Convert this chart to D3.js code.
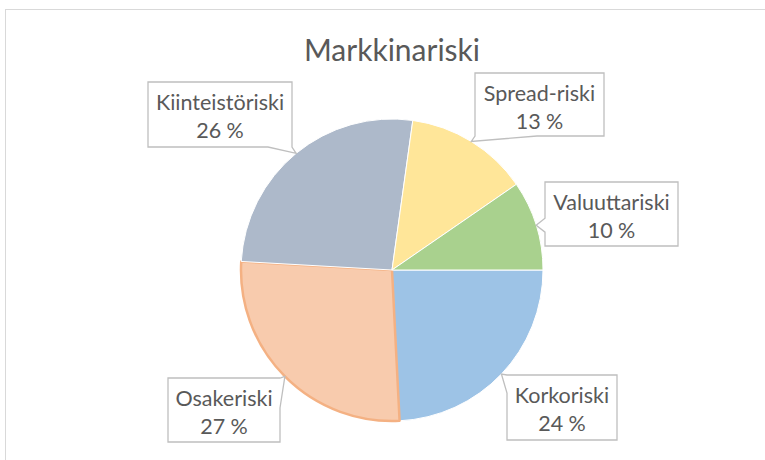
<!DOCTYPE html>
<html>
<head>
<meta charset="utf-8">
<script src="https://cdn.jsdelivr.net/npm/d3@7"></script>
<style>
  body { margin: 0; background: #fff; }
  text { font-family: Lato, "Noto Sans", sans-serif; fill: #595959; }
</style>
</head>
<body>
<div class="chart"></div>
<script>
// data (clockwise from 3 o'clock)
const categories = ["Korkoriski", "Osakeriski", "Kiinteistöriski", "Spread-riski", "Valuuttariski"];
const values = [24.2, 26.7, 26.3, 13.2, 9.6];
const pctLabels = ["24 %", "27 %", "26 %", "13 %", "10 %"];
const colors = ["#9dc3e6", "#f8cbad", "#adb9ca", "#ffe699", "#a9d18e"];

// callout boxes relative to pie centre: [dx, dy, w, h]
const boxes = [
  [115, 105, 110, 65],
  [-224, 108, 112, 64],
  [-244, -188, 144, 65],
  [83, -197, 129, 63],
  [153, -88, 133, 64]
];

let width = 765;
let height = 460;
let cx = 392, cy = 270, r = 151;

let svg = d3.select('.chart')
  .append('svg')
  .attr('width', width)
  .attr('height', height);

// chart area frame (runs off the picture on right/bottom)
svg.append('rect')
  .attr('x', 5.5).attr('y', 9.5)
  .attr('width', 800).attr('height', 500)
  .attr('fill', '#fff')
  .attr('stroke', '#d9d9d9');

svg.append('text')
  .attr('x', cx)
  .attr('y', 61)
  .attr('text-anchor', 'middle')
  .style('font-size', '30px')
  .text('Markkinariski');

let pie = d3.pie()
  .sort(null)
  .startAngle(Math.PI / 2)
  .endAngle(Math.PI / 2 + 2 * Math.PI);

let arcs = pie(values);
let arc = d3.arc().innerRadius(0).outerRadius(r);

let g = svg.append('g').attr('transform', 'translate(' + cx + ',' + cy + ')');

g.selectAll('path.slice')
  .data(arcs)
  .enter().append('path')
  .attr('class', 'slice')
  .attr('d', arc)
  .attr('fill', (d, i) => colors[i])
  .attr('stroke', (d, i) => i === 1 ? '#f4b183' : '#fff')
  .attr('stroke-width', (d, i) => i === 1 ? 2.5 : 1)
  .attr('stroke-linejoin', 'round');

// callout outline: box plus a thin tail pointing at the slice
function calloutPath(b, tip) {
  let x0 = b[0], y0 = b[1], x1 = b[0] + b[2], y1 = b[1] + b[3];
  let tx = tip[0], ty = tip[1];
  let pts;
  if (ty > y1) {
    // tail from bottom edge
    if (tx > x1) {
      pts = [[x0, y0], [x1, y0], [x1, y1], [tx, ty], [x1 - 24, y1], [x0, y1]];
    } else {
      pts = [[x0, y0], [x1, y0], [x1, y1], [x0 + 62, y1], [tx, ty], [x0, y1]];
    }
  } else if (tx > x1) {
    // tail from right edge
    pts = [[x0, y0], [x1, y0], [tx, ty], [x1, y0 + 30], [x1, y1], [x0, y1]];
  } else {
    // tail from left edge
    if (ty < y0) {
      pts = [[x0, y0], [x1, y0], [x1, y1], [x0, y1], [x0, y0 + 18], [tx, ty]];
    } else {
      pts = [[x0, y0], [x1, y0], [x1, y1], [x0, y1], [x0, ty + 7], [tx, ty], [x0, ty - 7]];
    }
  }
  return 'M' + pts.map(p => p.join(',')).join('L') + 'Z';
}

let labels = g.selectAll('g.callout')
  .data(arcs)
  .enter().append('g')
  .attr('class', 'callout');

labels.append('path')
  .attr('d', function(d, i) {
    let a = (d.startAngle + d.endAngle) / 2;
    let tip = [r * Math.sin(a), -r * Math.cos(a)];
    return calloutPath(boxes[i], tip);
  })
  .attr('fill', '#fff')
  .attr('stroke', '#bfbfbf')
  .attr('stroke-width', 1.3);

labels.append('text')
  .attr('x', (d, i) => boxes[i][0] + boxes[i][2] / 2)
  .attr('y', (d, i) => boxes[i][1] + 28)
  .attr('text-anchor', 'middle')
  .style('font-size', '21.5px')
  .text((d, i) => categories[i]);

labels.append('text')
  .attr('x', (d, i) => boxes[i][0] + boxes[i][2] / 2)
  .attr('y', (d, i) => boxes[i][1] + 56)
  .attr('text-anchor', 'middle')
  .style('font-size', '21.5px')
  .text((d, i) => pctLabels[i]);
</script>
</body>
</html>
